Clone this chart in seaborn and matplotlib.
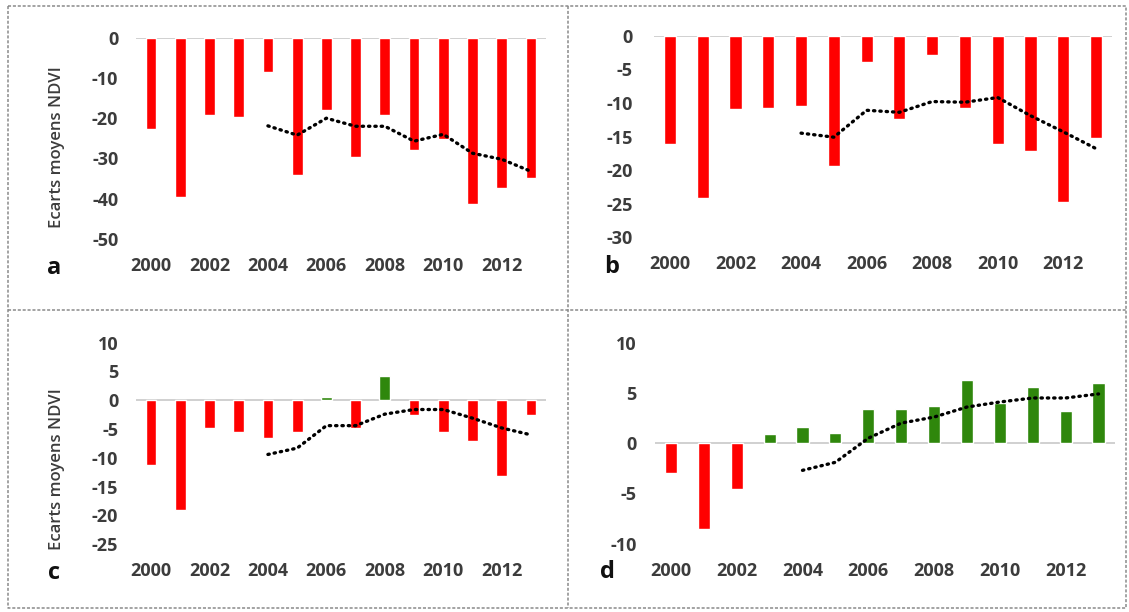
import numpy as np
import matplotlib
matplotlib.use('Agg')
import matplotlib.pyplot as plt
import seaborn as sns

years = [2000, 2001, 2002, 2003, 2004, 2005, 2006, 2007, 2008, 2009, 2010, 2011, 2012, 2013]
ma_years = [2004, 2005, 2006, 2007, 2008, 2009, 2010, 2011, 2012, 2013]

# ecarts moyens NDVI par annee
vals_a = [-22.8, -39.5, -19.2, -19.6, -8.6, -34.1, -18.0, -29.7, -19.2, -27.9, -25.2, -41.3, -37.4, -34.9]
vals_b = [-16.1, -24.2, -10.9, -10.7, -10.4, -19.4, -3.9, -12.4, -2.9, -10.7, -16.1, -17.2, -24.8, -15.2]
vals_c = [-11.3, -19.0, -4.8, -5.5, -6.5, -5.5, 0.5, -4.8, 4.3, -2.5, -5.5, -7.0, -13.2, -2.5]
vals_d = [-3.0, -8.5, -4.6, 0.9, 1.6, 1.0, 3.4, 3.4, 3.7, 6.3, 4.0, 5.6, 3.2, 6.0]

# moyenne mobile (courbe pointillee)
ma_a = [-21.9, -24.2, -20.0, -22.0, -22.0, -25.7, -24.0, -28.7, -30.2, -33.2]
ma_b = [-14.5, -15.1, -11.1, -11.4, -9.8, -9.9, -9.2, -11.9, -14.3, -16.8]
ma_c = [-9.4, -8.3, -4.4, -4.4, -2.4, -1.6, -1.6, -3.1, -4.8, -6.0]
ma_d = [-2.7, -1.9, 0.5, 2.0, 2.6, 3.6, 4.1, 4.5, 4.5, 4.9]

ylims = {'a': (-50, 0), 'b': (-30, 0), 'c': (-25, 10), 'd': (-10, 10)}
yticks = {'a': [0, -10, -20, -30, -40, -50],
          'b': [0, -5, -10, -15, -20, -25, -30],
          'c': [10, 5, 0, -5, -10, -15, -20, -25],
          'd': [10, 5, 0, -5, -10]}

RED = '#ff0000'
GREEN = '#2f870c'
TXT = '#3c3c3c'

sns.set_theme(style='white')
plt.rcParams['font.family'] = ['Open Sans', 'DejaVu Sans']
plt.rcParams['axes.unicode_minus'] = False

W, H = 1129, 612
fig = plt.figure(figsize=(W / 100, H / 100), dpi=100)
fig.patch.set_facecolor('white')


def px_axes(l, t, r, b):
    return fig.add_axes([l / W, (H - b) / H, (r - l) / W, (b - t) / H])


def panel(ax, vals, ma, key, ypad):
    labels = [str(y) for y in years]
    colors = {lab: (RED if v < 0 else GREEN) for lab, v in zip(labels, vals)}
    sns.barplot(x=labels, y=vals, hue=labels, palette=colors, legend=False,
                width=0.37, saturation=1, ax=ax)
    pos = [years.index(y) for y in ma_years]
    ax.plot(pos, ma, color='black', lw=2.4, linestyle=(0, (0.4, 1.5)),
            dash_capstyle='round', zorder=5)
    ax.axhline(0, color='#c8c8c8', lw=1.2, zorder=0)
    ax.set_xlim(-0.5, 13.5)
    ax.set_ylim(*ylims[key])
    ax.set_yticks(yticks[key])
    ax.set_yticklabels([str(t) for t in yticks[key]])
    ax.set_xticks(range(0, 14, 2))
    ax.set_xticklabels([str(years[i]) for i in range(0, 14, 2)])
    for s in ax.spines.values():
        s.set_visible(False)
    ax.tick_params(axis='x', length=0, pad=13, labelsize=13, labelcolor=TXT)
    ax.tick_params(axis='y', length=0, pad=ypad, labelsize=13, labelcolor=TXT)
    for t in ax.get_xticklabels() + ax.get_yticklabels():
        t.set_fontweight('bold')
    ax.set_xlabel('')
    ax.set_ylabel('')
    ax.set_facecolor('none')


ax_a = px_axes(136.4, 37.7, 545.6, 239.0)
ax_b = px_axes(653.6, 35.7, 1112.4, 237.3)
ax_c = px_axes(136.4, 342.7, 545.6, 544.3)
ax_d = px_axes(654.5, 342.7, 1115.0, 543.7)

panel(ax_a, vals_a, ma_a, 'a', 13)
panel(ax_b, vals_b, ma_b, 'b', 15)
panel(ax_c, vals_c, ma_c, 'c', 13)
panel(ax_d, vals_d, ma_d, 'd', 13)

# cadres pointilles + lettres
ov = fig.add_axes([0, 0, 1, 1], zorder=-1)
ov.set_xlim(0, W)
ov.set_ylim(H, 0)
ov.axis('off')
border = dict(color='#8a8a8a', lw=1.1, linestyle=(0, (2, 1.2)))
ov.plot([8, 1126, 1126, 8, 8], [6, 6, 608, 608, 6], **border)
ov.plot([568, 568], [6, 608], **border)
ov.plot([8, 1126], [310, 310], **border)

for letter, x, y in [('a', 54, 268), ('b', 612, 267), ('c', 54, 573), ('d', 607, 572)]:
    ov.text(x, y, letter, fontsize=17, fontweight='bold', color='#111111',
            ha='center', va='center')
for y in [147, 469]:
    ov.text(57, y, 'Ecarts moyens NDVI', rotation=90, fontsize=12, fontweight='semibold',
            color=TXT, ha='center', va='center')

fig.savefig('out.png', dpi=100, facecolor='white')
